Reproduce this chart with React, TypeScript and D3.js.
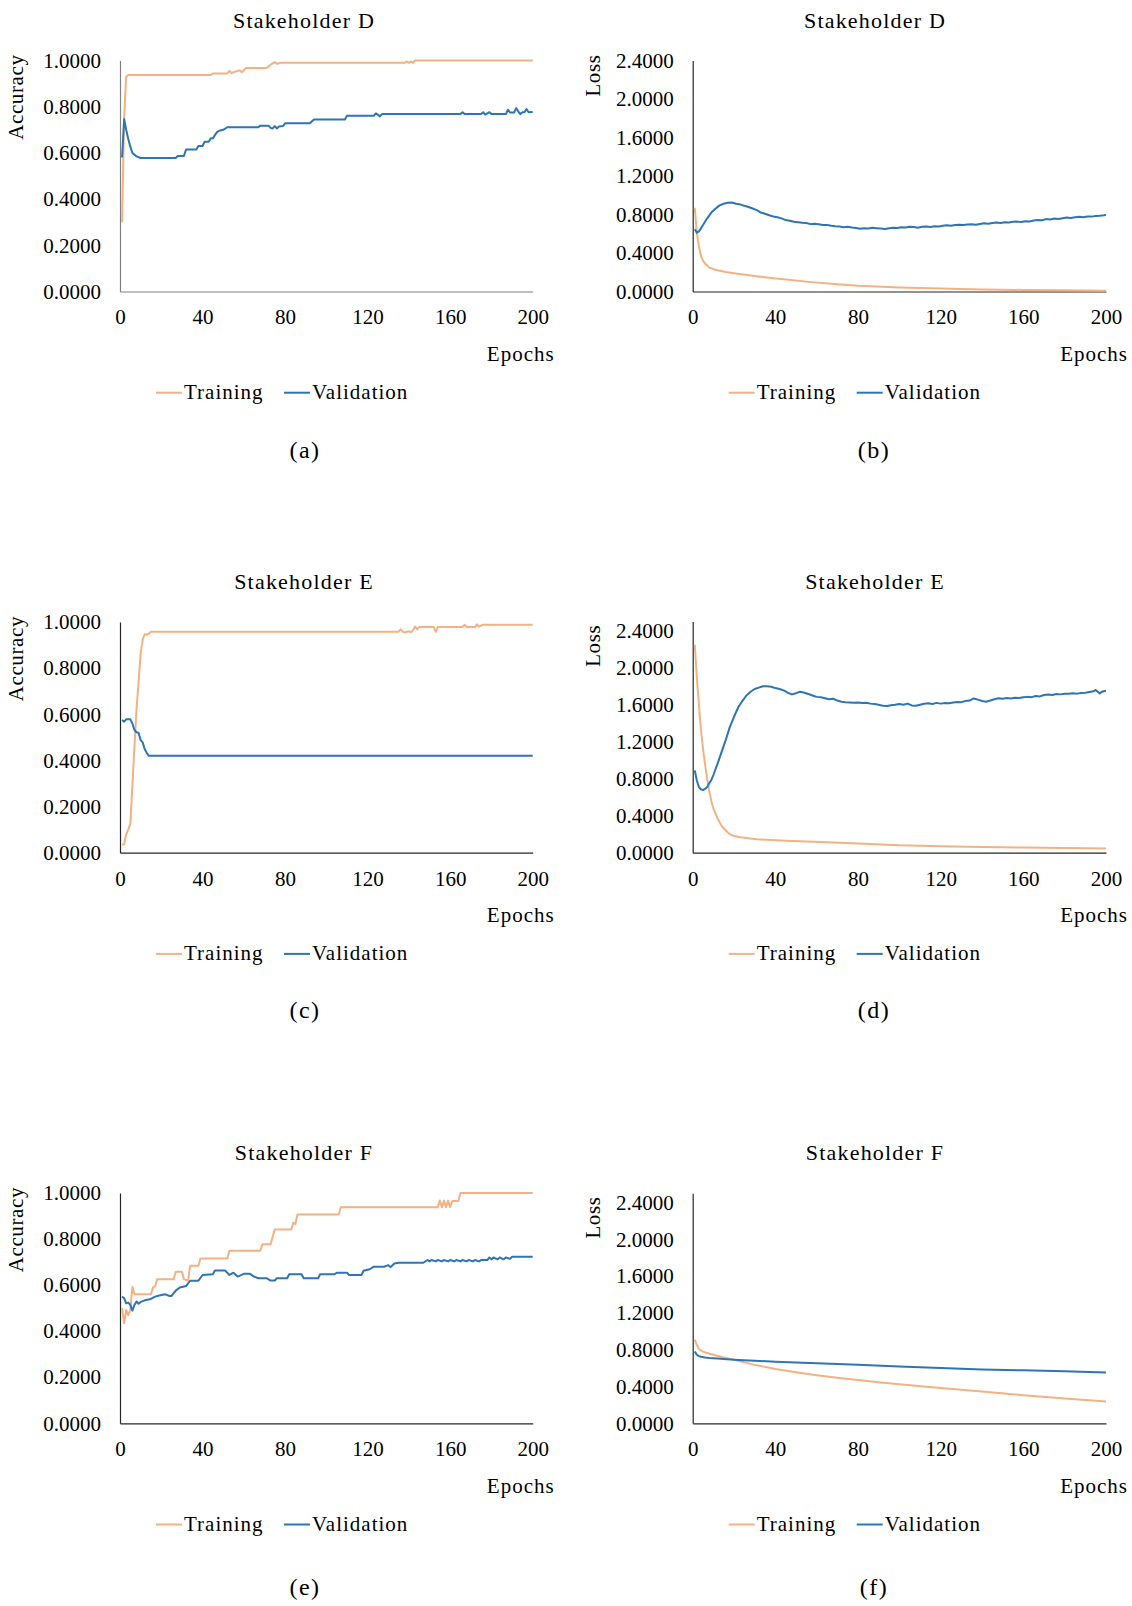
import React, { useEffect, useRef } from 'react';
import * as d3 from 'd3';

type Pt = [number, number];

const FONT = '"Liberation Serif", "Times New Roman", serif';

const epochTicks = [0, 40, 80, 120, 160, 200];
const accTicks = [0, 0.2, 0.4, 0.6, 0.8, 1.0];
const lossTicks = [0, 0.4, 0.8, 1.2, 1.6, 2.0, 2.4];
const seriesNames = ['Training', 'Validation'];
const seriesColors = ['#F4B183', '#2E75B6'];

// Stakeholder D - accuracy
const dAccTrain: Pt[] = [[1, 0.30], [2, 0.75], [3, 0.93], [4, 0.937], [44, 0.937], [45, 0.944], [52, 0.944], [53, 0.955], [54, 0.946], [56, 0.952], [58, 0.958], [59, 0.949], [60, 0.958], [61, 0.967], [71, 0.967], [73, 0.982], [75, 0.993], [76, 0.986], [78, 0.99], [138, 0.99], [139, 0.996], [140, 0.99], [141, 0.996], [142, 0.99], [143, 1.0], [200, 1.0]];
const dAccVal: Pt[] = [[1, 0.58], [2, 0.747], [3, 0.70], [4, 0.66], [5, 0.627], [6, 0.60], [8, 0.585], [10, 0.578], [27, 0.578], [28, 0.587], [31, 0.587], [32, 0.615], [37, 0.615], [38, 0.63], [40, 0.63], [41, 0.648], [43, 0.648], [44, 0.663], [45, 0.663], [46, 0.677], [47, 0.69], [48, 0.696], [50, 0.70], [52, 0.711], [67, 0.711], [68, 0.718], [72, 0.718], [73, 0.708], [74, 0.706], [75, 0.716], [76, 0.706], [77, 0.714], [79, 0.716], [80, 0.728], [92, 0.728], [94, 0.745], [109, 0.745], [110, 0.761], [123, 0.761], [124, 0.771], [126, 0.758], [127, 0.768], [165, 0.768], [166, 0.776], [167, 0.768], [175, 0.768], [176, 0.776], [177, 0.766], [179, 0.776], [180, 0.768], [187, 0.768], [188, 0.787], [189, 0.775], [191, 0.775], [192, 0.794], [193, 0.78], [194, 0.768], [195, 0.776], [196, 0.776], [197, 0.79], [198, 0.776], [200, 0.777]];

// Stakeholder D - loss
const dLossTrain: Pt[] = [[1, 0.87], [2, 0.61], [3, 0.47], [4, 0.37], [5, 0.32], [6, 0.29], [8, 0.25], [10, 0.232], [12, 0.22], [16, 0.203], [20, 0.19], [30, 0.16], [44, 0.127], [56, 0.10], [70, 0.075], [80, 0.06], [100, 0.042], [120, 0.03], [140, 0.022], [160, 0.016], [180, 0.012], [200, 0.009]];
const dLossVal: Pt[] = [[1, 0.646], [2, 0.611], [3, 0.625], [4, 0.656], [5, 0.69], [7, 0.76], [9, 0.82], [11, 0.86], [13, 0.895], [15, 0.912], [17, 0.923], [19, 0.925], [21, 0.912], [23, 0.905], [25, 0.89], [27, 0.878], [29, 0.862], [31, 0.845], [33, 0.82], [35, 0.808], [37, 0.792], [39, 0.78], [41, 0.771], [43, 0.76], [45, 0.742], [47, 0.736], [49, 0.725], [51, 0.72], [53, 0.715], [55, 0.712], [57, 0.70], [59, 0.705], [61, 0.698], [63, 0.69], [65, 0.692], [67, 0.683], [69, 0.678], [71, 0.675], [73, 0.668], [75, 0.672], [77, 0.665], [79, 0.66], [81, 0.652], [83, 0.658], [85, 0.655], [87, 0.662], [89, 0.658], [91, 0.654], [93, 0.65], [95, 0.658], [97, 0.662], [99, 0.66], [101, 0.668], [103, 0.664], [105, 0.672], [107, 0.67], [109, 0.662], [111, 0.672], [113, 0.676], [115, 0.67], [117, 0.678], [119, 0.675], [121, 0.682], [123, 0.688], [125, 0.684], [127, 0.69], [129, 0.694], [131, 0.69], [133, 0.696], [135, 0.698], [137, 0.694], [139, 0.702], [141, 0.708], [143, 0.704], [145, 0.712], [147, 0.716], [149, 0.712], [151, 0.72], [153, 0.718], [155, 0.724], [157, 0.726], [159, 0.722], [161, 0.73], [163, 0.728], [165, 0.738], [167, 0.744], [169, 0.74], [171, 0.752], [173, 0.748], [175, 0.758], [177, 0.754], [179, 0.762], [181, 0.768], [183, 0.764], [185, 0.772], [187, 0.776], [189, 0.772], [191, 0.78], [193, 0.778], [195, 0.785], [197, 0.788], [199, 0.792], [200, 0.795]];

// Stakeholder E - accuracy
const eAccTrain: Pt[] = [[1, 0.036], [2, 0.036], [3, 0.08], [4, 0.10], [5, 0.125], [6, 0.29], [7, 0.46], [8, 0.62], [9, 0.74], [10, 0.864], [11, 0.925], [12, 0.947], [13, 0.945], [14, 0.95], [15, 0.958], [135, 0.958], [136, 0.968], [137, 0.958], [138, 0.955], [140, 0.96], [141, 0.955], [142, 0.965], [143, 0.98], [144, 0.968], [145, 0.978], [152, 0.978], [153, 0.957], [154, 0.978], [166, 0.978], [167, 0.988], [168, 0.978], [172, 0.978], [173, 0.99], [174, 0.98], [176, 0.988], [200, 0.988]];
const eAccVal: Pt[] = [[1, 0.575], [2, 0.568], [3, 0.578], [5, 0.578], [6, 0.56], [7, 0.532], [8, 0.522], [9, 0.52], [10, 0.488], [11, 0.478], [12, 0.448], [13, 0.432], [14, 0.42], [200, 0.42]];

// Stakeholder E - loss
const eLossTrain: Pt[] = [[1, 2.25], [2, 1.90], [3, 1.60], [4, 1.33], [5, 1.12], [6, 0.95], [7, 0.80], [8, 0.67], [9, 0.56], [10, 0.48], [12, 0.37], [14, 0.29], [16, 0.24], [18, 0.20], [20, 0.18], [23, 0.166], [31, 0.145], [45, 0.13], [65, 0.112], [80, 0.10], [100, 0.08], [120, 0.07], [140, 0.062], [160, 0.055], [180, 0.05], [200, 0.045]];
const eLossVal: Pt[] = [[1, 0.89], [2, 0.78], [3, 0.71], [4, 0.685], [5, 0.678], [6, 0.69], [7, 0.71], [8, 0.75], [9, 0.786], [10, 0.84], [12, 0.96], [14, 1.09], [16, 1.22], [18, 1.36], [20, 1.47], [22, 1.57], [24, 1.64], [26, 1.70], [28, 1.74], [30, 1.77], [32, 1.785], [34, 1.80], [36, 1.80], [38, 1.795], [40, 1.78], [42, 1.77], [44, 1.755], [46, 1.73], [48, 1.712], [50, 1.725], [52, 1.74], [54, 1.73], [56, 1.716], [58, 1.70], [60, 1.685], [62, 1.68], [64, 1.67], [66, 1.66], [68, 1.665], [70, 1.645], [72, 1.633], [74, 1.628], [76, 1.625], [78, 1.622], [80, 1.625], [82, 1.618], [84, 1.622], [86, 1.612], [88, 1.608], [90, 1.60], [92, 1.59], [94, 1.586], [96, 1.595], [98, 1.60], [100, 1.608], [102, 1.60], [104, 1.612], [106, 1.593], [108, 1.59], [110, 1.60], [112, 1.61], [114, 1.615], [116, 1.608], [118, 1.62], [120, 1.612], [122, 1.618], [124, 1.615], [126, 1.625], [128, 1.63], [130, 1.628], [132, 1.64], [134, 1.645], [136, 1.668], [138, 1.655], [140, 1.64], [142, 1.633], [144, 1.645], [146, 1.66], [148, 1.669], [150, 1.665], [152, 1.672], [154, 1.668], [156, 1.676], [158, 1.672], [160, 1.68], [162, 1.685], [164, 1.682], [166, 1.694], [168, 1.69], [170, 1.705], [172, 1.71], [174, 1.705], [176, 1.716], [178, 1.712], [180, 1.718], [182, 1.72], [184, 1.723], [186, 1.72], [188, 1.728], [190, 1.73], [192, 1.738], [194, 1.745], [195, 1.76], [197, 1.723], [198, 1.74], [200, 1.752]];

// Stakeholder F - accuracy
const fAccTrain: Pt[] = [[1, 0.50], [2, 0.434], [3, 0.492], [4, 0.47], [5, 0.492], [6, 0.593], [7, 0.56], [15, 0.56], [16, 0.59], [17, 0.595], [18, 0.625], [26, 0.625], [27, 0.658], [30, 0.658], [31, 0.625], [33, 0.62], [34, 0.684], [38, 0.684], [39, 0.716], [52, 0.716], [53, 0.749], [68, 0.749], [69, 0.778], [73, 0.778], [75, 0.842], [83, 0.842], [84, 0.871], [85, 0.865], [86, 0.907], [106, 0.907], [107, 0.938], [154, 0.938], [155, 0.967], [156, 0.938], [157, 0.967], [158, 0.938], [159, 0.967], [160, 0.938], [161, 0.965], [164, 0.965], [165, 1.0], [200, 1.0]];
const fAccVal: Pt[] = [[1, 0.55], [2, 0.543], [3, 0.521], [4, 0.524], [5, 0.514], [6, 0.489], [7, 0.514], [8, 0.529], [9, 0.519], [10, 0.527], [12, 0.534], [15, 0.54], [17, 0.55], [19, 0.555], [22, 0.56], [24, 0.553], [25, 0.553], [27, 0.576], [29, 0.59], [32, 0.596], [34, 0.619], [38, 0.619], [40, 0.644], [45, 0.647], [46, 0.663], [51, 0.663], [53, 0.644], [55, 0.654], [57, 0.637], [60, 0.649], [63, 0.649], [65, 0.637], [67, 0.63], [71, 0.63], [73, 0.62], [75, 0.62], [76, 0.63], [81, 0.63], [82, 0.647], [88, 0.647], [89, 0.63], [96, 0.63], [97, 0.647], [104, 0.647], [105, 0.654], [110, 0.654], [111, 0.644], [117, 0.644], [118, 0.662], [121, 0.669], [123, 0.68], [128, 0.68], [130, 0.687], [131, 0.678], [133, 0.694], [135, 0.697], [147, 0.697], [149, 0.709], [150, 0.703], [151, 0.709], [153, 0.703], [154, 0.709], [156, 0.703], [157, 0.709], [159, 0.703], [160, 0.709], [162, 0.703], [163, 0.709], [165, 0.703], [166, 0.709], [168, 0.703], [169, 0.709], [171, 0.703], [172, 0.709], [174, 0.703], [175, 0.709], [178, 0.709], [179, 0.72], [180, 0.712], [181, 0.72], [183, 0.712], [184, 0.72], [186, 0.712], [187, 0.72], [189, 0.714], [190, 0.723], [200, 0.723]];

// Stakeholder F - loss
const fLossTrain: Pt[] = [[1, 0.91], [2, 0.85], [3, 0.81], [4, 0.79], [6, 0.77], [10, 0.745], [15, 0.715], [20, 0.69], [30, 0.635], [40, 0.59], [50, 0.555], [60, 0.522], [70, 0.494], [80, 0.47], [90, 0.447], [100, 0.425], [120, 0.385], [140, 0.345], [160, 0.305], [180, 0.27], [200, 0.237]];
const fLossVal: Pt[] = [[1, 0.78], [2, 0.745], [3, 0.73], [4, 0.724], [6, 0.715], [8, 0.71], [12, 0.705], [15, 0.70], [20, 0.692], [30, 0.68], [40, 0.67], [60, 0.652], [80, 0.636], [100, 0.618], [120, 0.602], [140, 0.586], [160, 0.576], [180, 0.566], [200, 0.553]];

// layout of the six panels (pixel positions)
const colX = [[120, 532.7], [692.7, 1106]];
const panels = [
  { title: 'Stakeholder D', label: '(a)', yLabel: 'Accuracy', col: 0, top: 60.5, bottom: 291.5, yMax: 1, ticks: accTicks, train: dAccTrain, val: dAccVal, axis: '#808080', titleTop: 60.5, caption: 457.7 },
  { title: 'Stakeholder D', label: '(b)', yLabel: 'Loss', col: 1, top: 60.5, bottom: 291.5, yMax: 2.4, ticks: lossTicks, train: dLossTrain, val: dLossVal, axis: '#262626', titleTop: 60.5, caption: 457.7 },
  { title: 'Stakeholder E', label: '(c)', yLabel: 'Accuracy', col: 0, top: 622, bottom: 852.7, yMax: 1, ticks: accTicks, train: eAccTrain, val: eAccVal, axis: '#262626', titleTop: 622, caption: 1018 },
  { title: 'Stakeholder E', label: '(d)', yLabel: 'Loss', col: 1, top: 621.5, bottom: 852.7, yMax: 2.5, ticks: lossTicks, train: eLossTrain, val: eLossVal, axis: '#262626', titleTop: 622, caption: 1018 },
  { title: 'Stakeholder F', label: '(e)', yLabel: 'Accuracy', col: 0, top: 1193, bottom: 1423.3, yMax: 1, ticks: accTicks, train: fAccTrain, val: fAccVal, axis: '#262626', titleTop: 1193, caption: 1595 },
  { title: 'Stakeholder F', label: '(f)', yLabel: 'Loss', col: 1, top: 1193.3, bottom: 1423.3, yMax: 2.5, ticks: lossTicks, train: fLossTrain, val: fLossVal, axis: '#262626', titleTop: 1193, caption: 1595 },
];

const App = () => {
  const svgRef = useRef<SVGSVGElement>(null);

  useEffect(() => {
    const svg = d3.select(svgRef.current);
    svg.selectAll('*').remove();
    const fmt = d3.format('.4f');

    panels.forEach(p => {
      const [x0, x1] = colX[p.col];
      const x = d3.scaleLinear().domain([0, 200]).range([x0, x1]);
      const y = d3.scaleLinear().domain([0, p.yMax]).range([p.bottom, p.top]);
      const g = svg.append('g');
      const titleCx = p.col === 0 ? 304 : 875;

      // title
      g.append('text')
        .attr('x', titleCx).attr('y', p.titleTop - 33)
        .attr('text-anchor', 'middle')
        .attr('font-size', 22).attr('letter-spacing', 1.2)
        .text(p.title);

      // y axis
      const ya = g.append('g')
        .attr('transform', `translate(${x0},0)`)
        .call(d3.axisLeft(y).tickValues(p.ticks).tickSize(0).tickPadding(19).tickFormat(d => fmt(d as number)));
      ya.attr('font-family', FONT).attr('font-size', 21);
      ya.select('.domain').attr('stroke', p.axis).attr('stroke-width', 1.2);
      ya.selectAll('text').attr('fill', '#000');

      // x axis
      const xa = g.append('g')
        .attr('transform', `translate(0,${p.bottom})`)
        .call(d3.axisBottom(x).tickValues(epochTicks).tickSize(0).tickPadding(18));
      xa.attr('font-family', FONT).attr('font-size', 21);
      xa.select('.domain').attr('stroke', p.axis).attr('stroke-width', 1.2);
      xa.selectAll('text').attr('fill', '#000');

      // axis titles
      const topTick = y(p.ticks[p.ticks.length - 1]);
      const yl = p.col === 0 ? 22.5 : 600;
      g.append('text')
        .attr('transform', `translate(${yl},${topTick - 6}) rotate(-90)`)
        .attr('text-anchor', 'end')
        .attr('font-size', 21).attr('letter-spacing', 0.6)
        .text(p.yLabel);
      g.append('text')
        .attr('x', x1 + 22).attr('y', p.bottom + 69.5)
        .attr('text-anchor', 'end')
        .attr('font-size', 21).attr('letter-spacing', 1)
        .text('Epochs');

      // series
      const line = d3.line<Pt>().x(d => x(d[0])).y(d => y(d[1]));
      [p.train, p.val].forEach((s, i) => {
        g.append('path')
          .datum(s)
          .attr('d', line)
          .attr('fill', 'none')
          .attr('stroke', seriesColors[i])
          .attr('stroke-width', 2)
          .attr('stroke-linejoin', 'round');
      });

      // legend
      const ly = p.bottom + 101.2;
      const legendX = [36, 164];
      seriesNames.forEach((name, i) => {
        const lx = x0 + legendX[i];
        g.append('line')
          .attr('x1', lx).attr('x2', lx + 26)
          .attr('y1', ly).attr('y2', ly)
          .attr('stroke', seriesColors[i]).attr('stroke-width', 2);
        g.append('text')
          .attr('x', lx + 28).attr('y', ly + 6.5)
          .attr('font-size', 21).attr('letter-spacing', 1)
          .text(name);
      });

      // caption
      g.append('text')
        .attr('x', p.col === 0 ? 305 : 874).attr('y', p.caption)
        .attr('text-anchor', 'middle')
        .attr('font-size', 24).attr('letter-spacing', 1.5)
        .text(p.label);
    });
  }, []);

  return (
    <svg
      ref={svgRef}
      width={1132}
      height={1606}
      fontFamily={FONT}
      fill="#000"
      style={{ position: 'absolute', left: 0, top: 0, background: '#fff' }}
    />
  );
};

export default App;
